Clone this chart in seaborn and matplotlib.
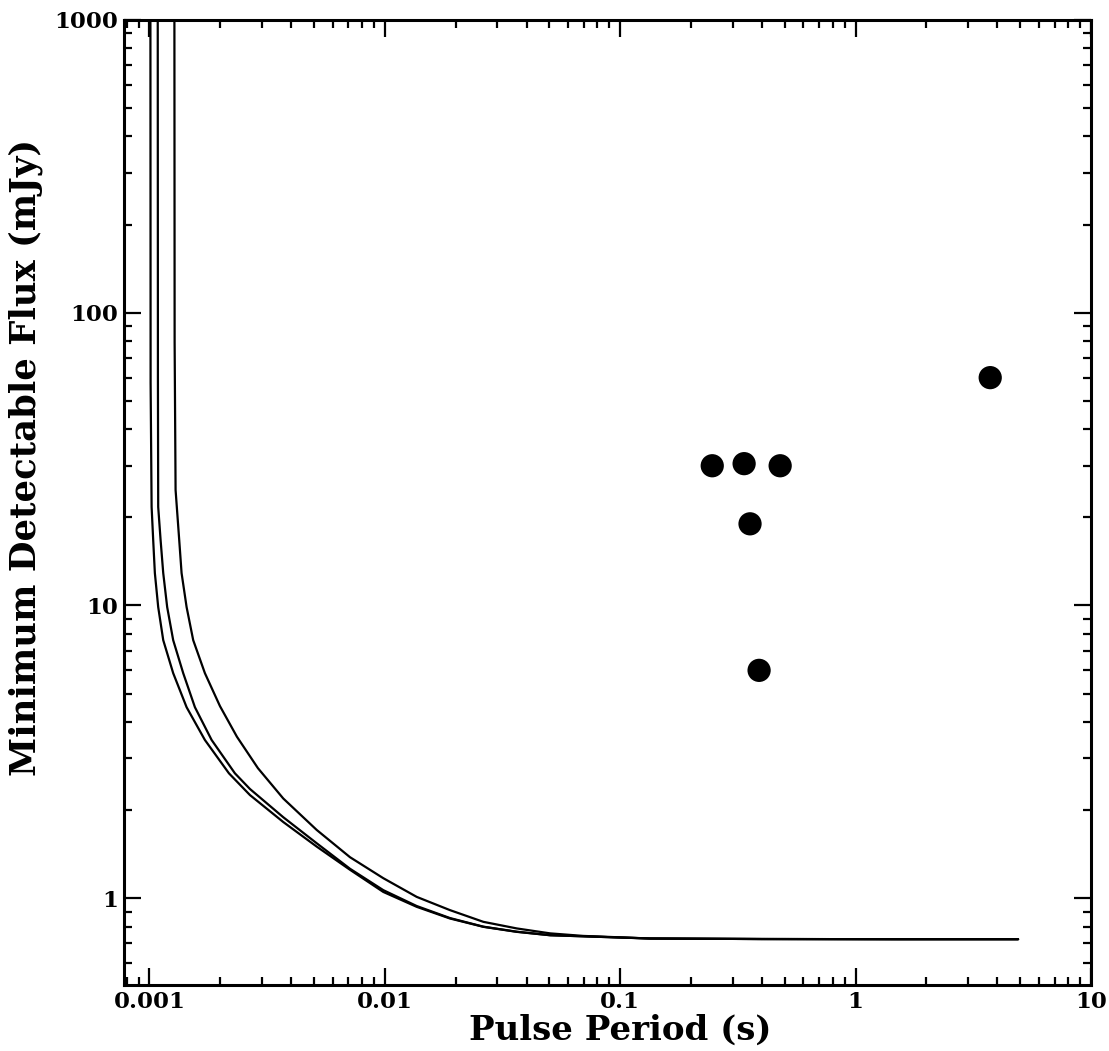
import matplotlib
matplotlib.use("Agg")
import matplotlib.pyplot as plt
import matplotlib.ticker as mticker
import seaborn as sns
import pandas as pd

# ---- data ----
curve1_period = [0.001010, 0.001012, 0.001022, 0.001038, 0.001055, 0.001090, 0.001145,
                 0.001262, 0.001439, 0.001721, 0.002177, 0.002674, 0.003704, 0.005137,
                 0.007115, 0.009854, 0.01366, 0.01892, 0.02622, 0.03636, 0.05037,
                 0.1340, 0.4, 1.5, 4.9]
curve1_flux = [1200, 57.5, 21.7, 16.7, 12.9, 9.87, 7.61, 5.87, 4.49, 3.47, 2.67, 2.25,
               1.82, 1.50, 1.25, 1.05, 0.934, 0.852, 0.798, 0.767, 0.747, 0.728,
               0.725, 0.724, 0.724]

curve2_period = [0.001085, 0.001087, 0.001090, 0.001116, 0.001145, 0.001190, 0.001262,
                 0.001392, 0.001561, 0.001838, 0.002308, 0.002674, 0.003704, 0.005137,
                 0.007115, 0.009854, 0.01366, 0.01892, 0.02622, 0.03636, 0.05037,
                 0.1340, 0.4, 1.5, 4.9]
curve2_flux = [1200, 60, 21.7, 16.7, 12.9, 9.87, 7.61, 5.87, 4.49, 3.47, 2.67, 2.36,
               1.89, 1.54, 1.26, 1.065, 0.940, 0.855, 0.799, 0.768, 0.747, 0.728,
               0.725, 0.724, 0.724]

curve3_period = [0.001277, 0.001280, 0.001292, 0.001339, 0.001370, 0.001439, 0.001535,
                 0.001721, 0.001994, 0.002354, 0.002891, 0.003704, 0.005137, 0.007115,
                 0.009854, 0.01366, 0.01892, 0.02622, 0.03636, 0.05037, 0.06957,
                 0.1340, 0.4, 1.5, 4.9]
curve3_flux = [1200, 79, 24.8, 16.7, 12.9, 9.87, 7.61, 5.87, 4.53, 3.56, 2.78, 2.19,
               1.71, 1.38, 1.17, 1.01, 0.910, 0.830, 0.788, 0.758, 0.743, 0.728,
               0.725, 0.724, 0.724]

pulsar_period = [0.246, 0.336, 0.478, 0.356, 0.389, 3.73]
pulsar_flux = [30, 30.5, 30, 19, 6, 60]

xtick_values = [0.001, 0.01, 0.1, 1, 10]
xtick_labels = ["0.001", "0.01", "0.1", "1", "10"]
ytick_values = [1, 10, 100, 1000]
ytick_labels = ["1", "10", "100", "1000"]

x_label = "Pulse Period (s)"
y_label = "Minimum Detectable Flux (mJy)"

# ---- plotting ----
sns.set_theme(style="ticks")
plt.rcParams["font.family"] = ["DejaVu Serif"]
plt.rcParams["font.weight"] = "bold"
for key in ["text.color", "axes.labelcolor", "xtick.color", "ytick.color",
            "axes.edgecolor"]:
    plt.rcParams[key] = "black"

fig = plt.figure(figsize=(11.09, 10.51), dpi=100)
ax = fig.add_axes([0.1118, 0.0628, 0.8720, 0.9182])

curves = [(curve1_period, curve1_flux), (curve2_period, curve2_flux),
          (curve3_period, curve3_flux)]
for p, f in curves:
    df = pd.DataFrame({"period": p, "flux": f})
    sns.lineplot(data=df, x="period", y="flux", ax=ax, color="black",
                 linewidth=1.6, sort=False, estimator=None)

pts = pd.DataFrame({"period": pulsar_period, "flux": pulsar_flux})
sns.scatterplot(data=pts, x="period", y="flux", ax=ax, color="black",
                s=280, edgecolor="none", zorder=5)

ax.set_xscale("log")
ax.set_yscale("log")
ax.set_xlim(0.00078, 10)
ax.set_ylim(0.505, 1000)

ax.xaxis.set_major_locator(mticker.FixedLocator(xtick_values))
ax.xaxis.set_major_formatter(mticker.FixedFormatter(xtick_labels))
ax.yaxis.set_major_locator(mticker.FixedLocator(ytick_values))
ax.yaxis.set_major_formatter(mticker.FixedFormatter(ytick_labels))
ax.xaxis.set_minor_locator(mticker.LogLocator(base=10, subs=range(2, 10), numticks=20))
ax.yaxis.set_minor_locator(mticker.LogLocator(base=10, subs=range(2, 10), numticks=20))
ax.xaxis.set_minor_formatter(mticker.NullFormatter())
ax.yaxis.set_minor_formatter(mticker.NullFormatter())

ax.tick_params(which="both", direction="in", top=True, right=True,
               width=1.6, color="black")
ax.tick_params(which="major", length=12, labelsize=16.5, pad=4)
ax.tick_params(which="minor", length=6)
for lab in ax.get_xticklabels() + ax.get_yticklabels():
    lab.set_fontweight("bold")
    lab.set_color("black")

for sp in ax.spines.values():
    sp.set_linewidth(2.2)
    sp.set_color("black")

ax.set_xlabel(x_label, fontsize=24.5, fontweight="bold", color="black")
ax.set_ylabel(y_label, fontsize=25.5, fontweight="bold", color="black")
ax.xaxis.set_label_coords(0.513, -0.0295)
ax.yaxis.set_label_coords(-0.084, 0.547)

fig.savefig("out.png", dpi=100, facecolor="white")
